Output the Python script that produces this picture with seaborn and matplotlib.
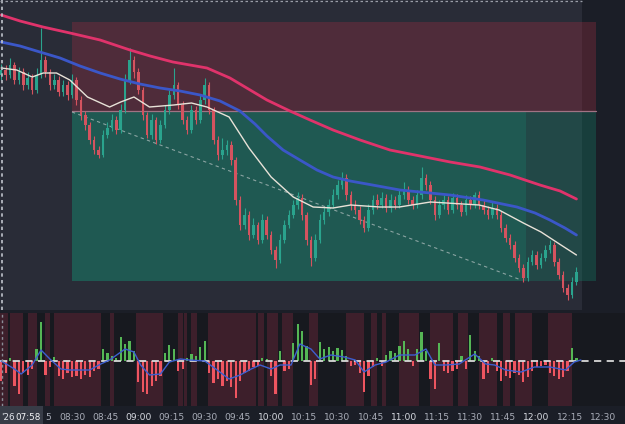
import matplotlib
matplotlib.use("Agg")
import matplotlib.pyplot as plt
import matplotlib.transforms as mtransforms
from matplotlib.patches import Rectangle
import numpy as np
import pandas as pd
import seaborn as sns

# ---------------- data ----------------
start_time = "07:58"          # first bar
bar_minutes = 2
first_open = 245
close = [250,245,255,240,248,235,242,230,245,260,248,235,240,228,235,225,240,220,205,195,
         180,170,165,185,192,200,190,210,240,260,248,230,205,185,200,180,195,210,225,235,
         215,200,190,210,200,220,235,210,180,165,170,175,160,120,95,105,85,95,80,100,
         85,70,60,80,95,105,115,122,105,80,62,80,100,108,115,125,135,142,125,115,
         110,100,92,110,120,115,122,112,120,115,125,130,120,115,125,142,135,120,105,115,
         120,110,122,115,108,120,115,125,115,110,105,112,105,92,82,75,62,52,42,58,
         65,55,62,70,75,58,45,32,25,38,48]
high = [256,255,262,258,253,252,248,246,252,292,264,251,246,244,240,239,246,243,224,209,
        198,184,174,190,198,206,204,216,246,272,264,252,233,208,206,203,200,215,230,252,
        238,219,204,215,214,226,242,238,213,184,182,180,179,163,124,112,109,102,98,106,
        104,89,74,86,100,110,120,128,126,108,84,86,106,113,121,131,140,148,146,129,
        120,114,104,116,125,126,128,126,126,124,131,138,134,124,130,153,146,139,124,120,
        125,124,127,126,119,125,124,128,129,120,114,118,116,109,96,86,79,66,56,63,
        70,69,67,75,80,78,62,49,36,43,53]
low = [240,240,242,236,236,230,231,226,227,242,243,230,231,224,224,220,222,215,200,190,
       176,166,162,163,182,189,186,187,207,236,242,226,200,182,181,176,177,192,206,221,
       211,196,186,187,196,197,216,206,176,160,161,165,155,115,90,91,80,82,76,77,
       81,66,52,57,77,92,102,111,100,75,54,59,77,96,104,112,121,131,120,110,
       106,96,88,89,106,111,112,108,108,111,112,121,116,111,112,121,130,116,100,102,
       111,106,107,111,104,105,111,112,111,106,101,102,101,88,78,71,58,48,38,39,
       55,51,52,59,67,54,41,28,20,22,35]

# moving averages (minutes since start, price)
ma_slow_t = [0,8.5,18.9,31.1,44.7,58.2,67.3,77.6,93.0,103.4,112.5,120.1,130.5,139.6,150.0,
             162.2,175.7,189.3,202.9,216.4,230.0,243.5,252.6,260]
ma_slow = [305,299,293,287,280,270,264,258,252,242,230,220,209,200,190,180,170,164,158,
           153,145,135,129,121]
ma_mid_t = [0,8.5,17.5,26.6,35.6,44.7,53.7,62.7,71.8,80.8,89.9,98.9,107.9,114.7,120.1,
            127.4,135.0,142.7,150.0,157.7,165.3,180.2,202.9,217.8,233.1,241.3,248.0,254.8,260]
ma_mid = [278,274,268,262,254,247,241,236,232,229,225,219,209,196,184,170,160,150,143,139,
          136,130,125,120,113,107,100,92,85]
ma_fast_t = [0,7,14,19,25,31,39,49,54,60,67,78,86,93,103,112,122,132,141,150,158,171,180,
             194,216,225,236,244,253,260]
ma_fast = [252,250,243,247,247,240,223,213,218,223,213,215,217,213,203,172,143,123,113,112,
           115,113,113,118,115,110,97,88,75,65]

# position tool
pos_start, pos_close, pos_end = "08:30", "11:55", "12:27"
stop_price, entry_price, target_price = 298, 209, 39
path_end_time, path_end_price = "11:53", 40

# oscillator histogram (one per bar) and its signal
osc = [-20,-12,3,-25,-33,-12,-14,-8,12,39,-14,-6,4,-15,-18,-12,-16,-15,-18,-14,
       -16,-10,-8,12,8,5,3,24,17,20,10,-21,-31,-33,-25,-20,-15,8,16,12,
       -10,-8,3,7,5,14,20,-12,-22,-18,-25,-20,-26,-37,-20,-12,-10,-6,-5,3,
       2,-15,-33,10,-10,-8,18,37,30,15,-24,-18,19,12,14,10,13,11,5,-5,
       -4,-12,-31,-15,-6,3,-5,6,10,8,15,20,12,-5,12,29,10,-18,-28,18,
       -10,-12,-10,-8,5,-8,26,10,5,-18,-12,3,-10,-20,-15,-17,-12,-14,-21,-16,
       -10,-6,-5,-4,-12,-15,-18,-16,-10,13,3]
sig_t = [0,6,9,14,18,22,27,31,40,45,49,56,60,63,67,72,76,81,85,92,97,103,108,113,117,
         122,126,131,135,140,144,149,155,160,164,169,174,180,187,192,196,201,207,214,
         219,223,228,235,241,248,255,259,262]
sig = [0,-8,-13,-4,11,2,-8,-9,-9,-3,1,12,9,-4,-14,-13,-1,2,1,0,-8,-18,-14,-8,-4,-8,
       -4,-4,17,12,2,6,4,1,-11,-4,-1,6,6,12,-4,-4,-3,7,-3,-4,-9,-11,-6,-6,-9,-1,1]

# session shading in lower pane (minutes since start)
dark_start = [3,10,16,22,45,51,73,82,84,88.5,115,119,125,132,143,164,170,174,189,204,
              211,224,230,240,258]
dark_end = [4,12,20,24,49,61,80,82.5,86,93.5,116,120,127,139,156,167,172,180,194,206.5,
            216,227,232,247,290]

tick_labels = ["08:30","08:45","09:00","09:15","09:30","09:45","10:00","10:15",
               "10:30","10:45","11:00","11:15","11:30","11:45","12:00","12:15","12:30"]
partial_label = "5"            # visible tail of the 08:15 label behind the cursor box
first_label_year = "'26"
first_label_time = "07:58"

# ---------------- helpers ----------------
def to_min(s):
    h, m = s.split(":")
    h0, m0 = start_time.split(":")
    return (int(h) * 60 + int(m)) - (int(h0) * 60 + int(m0))

n = len(close)
t = np.arange(n) * bar_minutes
opens = [first_open] + close[:-1]
df = pd.DataFrame({"t": t, "open": opens, "close": close, "high": high, "low": low, "osc": osc})

# ---------------- style ----------------
sns.set_theme(style="dark")
plt.rcParams["font.family"] = ["DejaVu Sans"]

FIG_BG = "#1b1e27"
PANE = "#292c37"
W, H = 625, 424
fig = plt.figure(figsize=(W / 100, H / 100), dpi=100, facecolor=FIG_BG)

px_per_min = 2.2125
x0_px = 1.2
xlim = ((0 - x0_px) / px_per_min, (W - x0_px) / px_per_min)

ax = fig.add_axes([0, 1 - 310 / H, 1, 310 / H])
axo = fig.add_axes([0, 1 - 406 / H, 1, (406 - 313) / H])
for a in (ax, axo):
    a.set_facecolor(FIG_BG)
    a.set_xlim(*xlim)
    for s in a.spines.values():
        s.set_visible(False)
    a.set_xticks([])
    a.set_yticks([])
    a.grid(False)
ax.set_ylim(10, 320)
axo.set_ylim(-45, 48)

# main pane background
pane_end = (582 - x0_px) / px_per_min
ax.axvspan(xlim[0], pane_end, color=PANE, zorder=0, lw=0)

# position tool
ps, pc, pe = to_min(pos_start), to_min(pos_close), to_min(pos_end)
ax.add_patch(Rectangle((ps, entry_price), pe - ps, stop_price - entry_price,
                       facecolor="#a82f44", alpha=0.3, lw=0, zorder=1))
ax.add_patch(Rectangle((ps, target_price), pc - ps, entry_price - target_price,
                       facecolor="#139273", alpha=0.45, lw=0, zorder=1))
ax.add_patch(Rectangle((pc, target_price), pe - pc, entry_price - target_price,
                       facecolor="#139273", alpha=0.28, lw=0, zorder=1))
ax.plot([ps, pe], [entry_price, entry_price], color="#a07384", lw=0.9, zorder=2)
ax.plot([ps, to_min(path_end_time)], [entry_price - 1, path_end_price],
        color="#b8c4c4", lw=0.8, ls=(0, (3, 3)), alpha=0.7, zorder=2)

# candles
up_c, dn_c = "#2aa38d", "#d4535f"
for _, r in df.iterrows():
    col = up_c if r.close >= r.open else dn_c
    hi = max(r.high, r.open, r.close)
    lo = min(r.low, r.open, r.close)
    ax.plot([r.t, r.t], [lo, hi], color=col, lw=0.8, zorder=3, solid_capstyle="butt")
    body = r.close - r.open
    if abs(body) < 1.0:
        body = 1.0
    ax.bar(r.t, body, bottom=r.open, width=1.15, color=col, lw=0, zorder=3)

# moving averages
sns.lineplot(x=ma_slow_t, y=ma_slow, ax=ax, color="#e0336b", lw=2.0, zorder=4)
sns.lineplot(x=ma_mid_t, y=ma_mid, ax=ax, color="#3b57c8", lw=2.0, zorder=4)
sns.lineplot(x=ma_fast_t, y=ma_fast, ax=ax, color="#e8e2d8", lw=1.0, zorder=4)

# dashed selection borders
ax.axvline((2 - x0_px) / px_per_min, color="#c0c4cc", lw=1.2, ls=(0, (2, 2)), zorder=5)
ax.axhline(319.3, xmax=582 / W, color="#9a9ea8", lw=0.9, ls=(0, (2, 2)), zorder=5)

# lower pane: session shading
axo.axvspan(xlim[0], dark_start[-1], color="#3d1f2b", lw=0, zorder=0)
for s0, s1 in zip(dark_start, dark_end):
    axo.axvspan(s0, s1, color="#17191f", lw=0, zorder=0)

# histogram
cols = ["#55b655" if v >= 0 else "#ee5560" for v in df.osc]
axo.bar(df.t, df.osc, width=1.0, color=cols, lw=0, zorder=2)
axo.axhline(0, color="#d8d8d8", lw=1.3, ls=(0, (4, 3)), zorder=3)
sns.lineplot(x=sig_t, y=sig, ax=axo, color="#3d5fd0", lw=1.0, zorder=4)
axo.axvline((2 - x0_px) / px_per_min, color="#8a8e98", lw=1.0, ls=(0, (2, 2)), zorder=5)

for a in (ax, axo):
    leg = a.get_legend()
    if leg:
        leg.remove()
    a.set_xlabel("")
    a.set_ylabel("")

# time axis labels
trans = mtransforms.blended_transform_factory(axo.transData, fig.transFigure)
for lab in tick_labels:
    bright = lab.endswith(":00")
    fig.text(to_min(lab), 1 - 418 / H, lab, transform=trans, ha="center", va="center",
             fontsize=6.6, color="#d6d9e0" if bright else "#a9adb8", zorder=5)
fig.text(45 / W, 1 - 418 / H, partial_label, ha="left", va="center", fontsize=6.6,
         color="#a9adb8", zorder=5)
fig.add_artist(Rectangle((0, 0), 43 / W, (424 - 406) / H, transform=fig.transFigure,
                         facecolor="#383c47", edgecolor="none", zorder=10))
fig.text(1 / W, 1 - 418 / H, first_label_year, ha="left", va="center", fontsize=6.3,
         color="#e4e6ec", zorder=11)
fig.text(41 / W, 1 - 418 / H, first_label_time, ha="right", va="center", fontsize=6.3,
         color="#f4f5f8", zorder=11)

fig.savefig("out.png", dpi=100, facecolor=FIG_BG)
